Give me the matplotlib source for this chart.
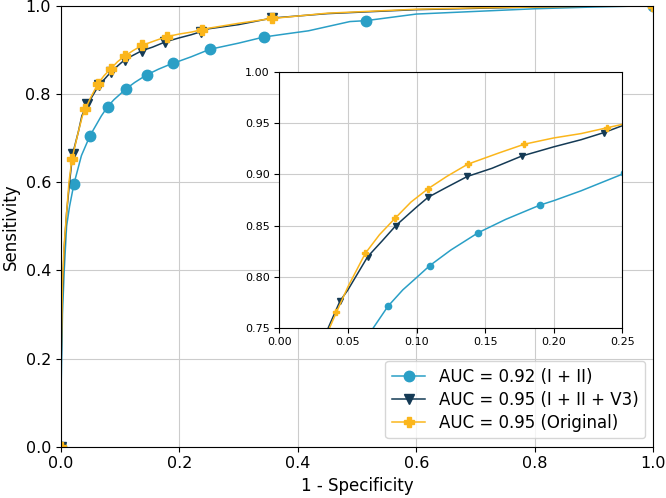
import numpy as np
import matplotlib
matplotlib.use("Agg")
import matplotlib.pyplot as plt

# curve points and marker points, per model
cyan_fpr = [0.001, 0.003, 0.006, 0.010, 0.015, 0.035, 0.0686, 0.090, 0.100, 0.125, 0.165,
            0.200, 0.220, 0.300, 0.380, 0.418, 0.488, 0.600, 0.700, 0.800, 0.900]
cyan_tpr = [0.15, 0.30, 0.40, 0.50, 0.545, 0.66, 0.75, 0.787, 0.799, 0.826, 0.856,
            0.8743, 0.884, 0.915, 0.936, 0.943, 0.964, 0.981, 0.987, 0.993, 0.997]
cyan_mk_fpr = [0.0, 0.0224, 0.0494, 0.0792, 0.1096, 0.145, 0.190, 0.2514, 0.343, 0.5147, 1.0]
cyan_mk_tpr = [0.0, 0.596, 0.705, 0.771, 0.8107, 0.843, 0.870, 0.901, 0.929, 0.966, 1.0]

navy_fpr = [0.001, 0.003, 0.006, 0.010, 0.015, 0.030, 0.0357, 0.050, 0.075, 0.100, 0.120,
            0.155, 0.200, 0.220, 0.250, 0.300, 0.450, 0.500, 0.600, 0.700, 0.800, 0.900]
navy_tpr = [0.20, 0.35, 0.45, 0.53, 0.60, 0.715, 0.75, 0.787, 0.835, 0.868, 0.886,
            0.906, 0.927, 0.934, 0.9477, 0.957, 0.982, 0.985, 0.991, 0.994, 0.997, 0.999]
navy_mk_fpr = [0.0, 0.0203, 0.0442, 0.0644, 0.085, 0.1084, 0.137, 0.1767, 0.2367, 0.357, 1.0]
navy_mk_tpr = [0.0, 0.664, 0.776, 0.8195, 0.850, 0.8776, 0.898, 0.918, 0.941, 0.972, 1.0]

orig_fpr = [0.001, 0.003, 0.006, 0.010, 0.014, 0.030, 0.0367, 0.050, 0.073, 0.096, 0.122,
            0.160, 0.200, 0.220, 0.250, 0.300, 0.450, 0.500, 0.600, 0.700, 0.800, 0.900]
orig_tpr = [0.22, 0.37, 0.46, 0.53, 0.60, 0.715, 0.75, 0.790, 0.841, 0.873, 0.898,
            0.921, 0.9357, 0.940, 0.949, 0.960, 0.983, 0.986, 0.992, 0.995, 0.997, 0.999]
orig_mk_fpr = [0.0, 0.019, 0.0416, 0.0627, 0.0843, 0.1084, 0.1373, 0.1786, 0.2386, 0.357, 1.0]
orig_mk_tpr = [0.0, 0.652, 0.765, 0.8228, 0.857, 0.886, 0.910, 0.9296, 0.9456, 0.971, 1.0]

labels = ["AUC = 0.92 (I + II)", "AUC = 0.95 (I + II + V3)", "AUC = 0.95 (Original)"]
colors = ["#2a9fc6", "#143a55", "#fbb61c"]
markers = ["o", "v", "P"]

series = [
    (cyan_fpr, cyan_tpr, cyan_mk_fpr, cyan_mk_tpr),
    (navy_fpr, navy_tpr, navy_mk_fpr, navy_mk_tpr),
    (orig_fpr, orig_tpr, orig_mk_fpr, orig_mk_tpr),
]


def merged(fpr, tpr, mk_fpr, mk_tpr):
    x = np.array(fpr + mk_fpr)
    y = np.array(tpr + mk_tpr)
    is_mk = np.array([False] * len(fpr) + [True] * len(mk_fpr))
    order = np.lexsort((y, x))
    return x[order], y[order], is_mk[order]


fig = plt.figure(figsize=(6.66, 4.98), dpi=100)
ax = fig.add_axes([0.0911, 0.103, 0.890, 0.8856])
ins = fig.add_axes([0.4194, 0.342, 0.515, 0.5129])

for (fpr, tpr, mfpr, mtpr), lab, c, m in zip(series, labels, colors, markers):
    x, y, mk = merged(fpr, tpr, mfpr, mtpr)
    ax.plot(x, y, color=c, lw=1.1, marker=m, markevery=list(mk), ms=7.5, label=lab)
    ins.plot(x, y, color=c, lw=1.1, marker=m, markevery=list(mk), ms=4.5)

grid_col = "#cccccc"

ax.set_xlim(0, 1)
ax.set_ylim(0, 1)
ax.set_xticks(np.arange(0, 1.01, 0.2))
ax.set_yticks(np.arange(0, 1.01, 0.2))
ax.tick_params(labelsize=11.5)
ax.grid(True, color=grid_col, lw=0.8)
ax.set_xlabel("1 - Specificity", fontsize=12)
ax.set_ylabel("Sensitivity", fontsize=12)
ax.legend(loc="lower right", fontsize=12, labelspacing=0.3)

ins.set_xlim(0, 0.25)
ins.set_ylim(0.75, 1.0)
ins.set_xticks(np.arange(0, 0.251, 0.05))
ins.set_yticks(np.arange(0.75, 1.001, 0.05))
ins.xaxis.set_major_formatter(matplotlib.ticker.FormatStrFormatter("%.2f"))
ins.yaxis.set_major_formatter(matplotlib.ticker.FormatStrFormatter("%.2f"))
ins.tick_params(labelsize=8)
ins.grid(True, color=grid_col, lw=0.8)

fig.savefig("out.png", dpi=100)
